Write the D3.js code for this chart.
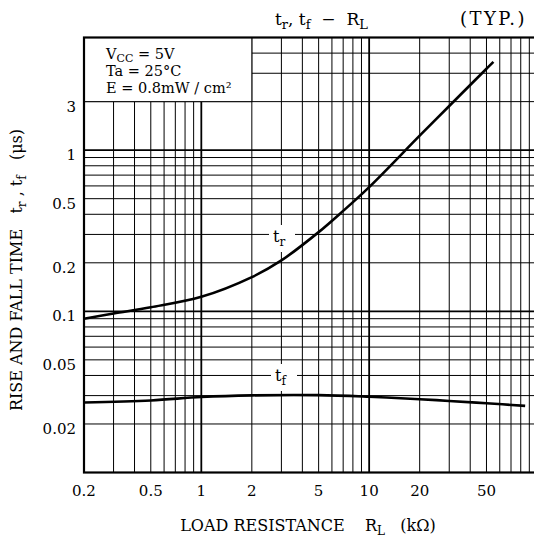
<!DOCTYPE html>
<html>
<head>
<meta charset="utf-8">
<script src="https://cdn.jsdelivr.net/npm/d3@7"></script>
<style>
  body { margin: 0; background: #fff; }
  text { font-family: "DejaVu Serif", "Liberation Serif", serif; fill: #000; }
</style>
</head>
<body>
<div id="chart"></div>
<script>
// values
const trR = [0.2, 0.3, 0.5, 1, 2, 3, 5, 7, 10, 20, 30, 50, 55];
const trT = [0.09, 0.097, 0.106, 0.123, 0.163, 0.207, 0.31, 0.42, 0.59, 1.23, 1.88, 3.2, 3.53];
const tfR = [0.2, 0.5, 1, 2, 5, 10, 20, 30, 50, 85];
const tfT = [0.0272, 0.028, 0.0294, 0.0301, 0.0302, 0.0295, 0.0285, 0.0278, 0.0269, 0.0259];

const xTicks = [0.2, 0.5, 1, 2, 5, 10, 20, 50];
const xTickLabels = ["0.2", "0.5", "1", "2", "5", "10", "20", "50"];
const yTicks = [0.02, 0.05, 0.1, 0.2, 0.5, 1, 2];
const yTickLabels = ["0.02", "0.05", "0.1", "0.2", "0.5", "1", "3"];

const xGrid = [0.3, 0.4, 0.5, 0.6, 0.7, 0.8, 0.9, 1, 2, 3, 4, 5, 6, 7, 8, 9, 10, 20, 30, 40, 50, 60, 70, 80, 90];
const yGrid = [0.02, 0.03, 0.04, 0.05, 0.06, 0.07, 0.08, 0.09, 0.1, 0.2, 0.3, 0.4, 0.5, 0.6, 0.7, 0.8, 0.9, 1, 2, 3, 4];
const conditions = ["V|CC| = 5V", "Ta = 25°C", "E = 0.8mW / cm²"];

const W = 534, H = 540;
const svg = d3.select("#chart").append("svg")
  .attr("width", W)
  .attr("height", H);

const x = d3.scaleLog().domain([0.2, 100]).range([84, 537]);
const y = d3.scaleLog().domain([0.01, 5]).range([472.5, 37.5]);
const isDecade = v => Math.abs(Math.log10(v) - Math.round(Math.log10(v))) < 1e-9;

// grid
svg.append("g").selectAll("line")
  .data(xGrid)
  .join("line")
  .attr("x1", d => x(d)).attr("x2", d => x(d))
  .attr("y1", y.range()[1]).attr("y2", y.range()[0])
  .attr("stroke", "#000")
  .attr("stroke-width", d => isDecade(d) ? 1.8 : 1);

svg.append("g").selectAll("line")
  .data(yGrid)
  .join("line")
  .attr("x1", x.range()[0]).attr("x2", x.range()[1])
  .attr("y1", d => y(d)).attr("y2", d => y(d))
  .attr("stroke", "#000")
  .attr("stroke-width", d => isDecade(d) ? 1.8 : 1);

// conditions box in the top-left corner
svg.append("rect")
  .attr("x", x(0.2)).attr("y", y(5))
  .attr("width", x(2) - x(0.2))
  .attr("height", y(2) - y(5))
  .attr("fill", "#fff")
  .attr("stroke", "#000")
  .attr("stroke-width", 1);

const cond = svg.append("g").attr("font-size", 14.5);
conditions.forEach((s, i) => {
  const t = cond.append("text")
    .attr("x", 106)
    .attr("y", 59 + i * 17);
  s.split("|").forEach((part, j) => {
    if (j % 2 === 1) {
      t.append("tspan").attr("font-size", 11).attr("dy", 2.5).text(part);
    } else {
      t.append("tspan").attr("dy", j === 0 ? 0 : -2.5).text(part);
    }
  });
});

// frame
svg.append("rect")
  .attr("x", x.range()[0]).attr("y", y.range()[1])
  .attr("width", x.range()[1] - x.range()[0])
  .attr("height", y.range()[0] - y.range()[1])
  .attr("fill", "none")
  .attr("stroke", "#000")
  .attr("stroke-width", 2.2);

// curve labels on a white patch (drawn before the curves)
function curveLabel(cx, cy, sub) {
  const g = svg.append("g");
  g.append("rect")
    .attr("x", cx - 12).attr("y", cy - 17)
    .attr("width", 26).attr("height", 27)
    .attr("fill", "#fff");
  const t = g.append("text").attr("x", cx - 8).attr("y", cy).attr("font-size", 16);
  t.append("tspan").text("t");
  t.append("tspan").attr("font-size", 12).attr("dy", 4).text(sub);
}
curveLabel(281, 242, "r");
curveLabel(283, 381, "f");

// curves
const line = d3.line()
  .x(d => x(d[0]))
  .y(d => y(d[1]))
  .curve(d3.curveCatmullRom.alpha(0.5));

svg.append("path")
  .datum(d3.zip(trR, trT))
  .attr("d", line)
  .attr("fill", "none")
  .attr("stroke", "#000")
  .attr("stroke-width", 2.6);

svg.append("path")
  .datum(d3.zip(tfR, tfT))
  .attr("d", line)
  .attr("fill", "none")
  .attr("stroke", "#000")
  .attr("stroke-width", 2.6);

// tick labels (the frame carries the axis lines)
svg.append("g").selectAll("text")
  .data(xTicks)
  .join("text")
  .attr("x", d => x(d))
  .attr("y", 496)
  .attr("text-anchor", "middle")
  .attr("font-size", 15)
  .text((d, i) => xTickLabels[i]);

svg.append("g").selectAll("text")
  .data(yTicks)
  .join("text")
  .attr("x", 76)
  .attr("y", d => y(d) + 10)
  .attr("text-anchor", "end")
  .attr("font-size", 15)
  .text((d, i) => yTickLabels[i]);

// axis titles
const xt = svg.append("text")
  .attr("x", 308).attr("y", 531)
  .attr("text-anchor", "middle")
  .attr("font-size", 16)
  .attr("xml:space", "preserve");
xt.append("tspan").text("LOAD RESISTANCE    R");
xt.append("tspan").attr("font-size", 12).attr("dy", 4).text("L");
xt.append("tspan").attr("dy", -4).text("   (kΩ)");

const yt = svg.append("text")
  .attr("transform", "translate(22,270) rotate(-90)")
  .attr("text-anchor", "middle")
  .attr("font-size", 16)
  .attr("xml:space", "preserve");
yt.append("tspan").text("RISE AND FALL TIME   t");
yt.append("tspan").attr("font-size", 12).attr("dy", 4).text("r");
yt.append("tspan").attr("dy", -4).text(" , t");
yt.append("tspan").attr("font-size", 12).attr("dy", 4).text("f");
yt.append("tspan").attr("dy", -4).text("   (μs)");

// title
const tt = svg.append("text")
  .attr("x", 275).attr("y", 25)
  .attr("font-size", 17)
  .attr("xml:space", "preserve");
tt.append("tspan").text("t");
tt.append("tspan").attr("font-size", 13).attr("dy", 4).text("r");
tt.append("tspan").attr("dy", -4).text(", t");
tt.append("tspan").attr("font-size", 13).attr("dy", 4).text("f");
tt.append("tspan").attr("dy", -4).text("  −  R");
tt.append("tspan").attr("font-size", 13).attr("dy", 4).text("L");

svg.append("text")
  .attr("x", 527).attr("y", 25)
  .attr("text-anchor", "end")
  .attr("font-size", 18)
  .attr("letter-spacing", 2.5)
  .text("(TYP.)");
</script>
</body>
</html>
